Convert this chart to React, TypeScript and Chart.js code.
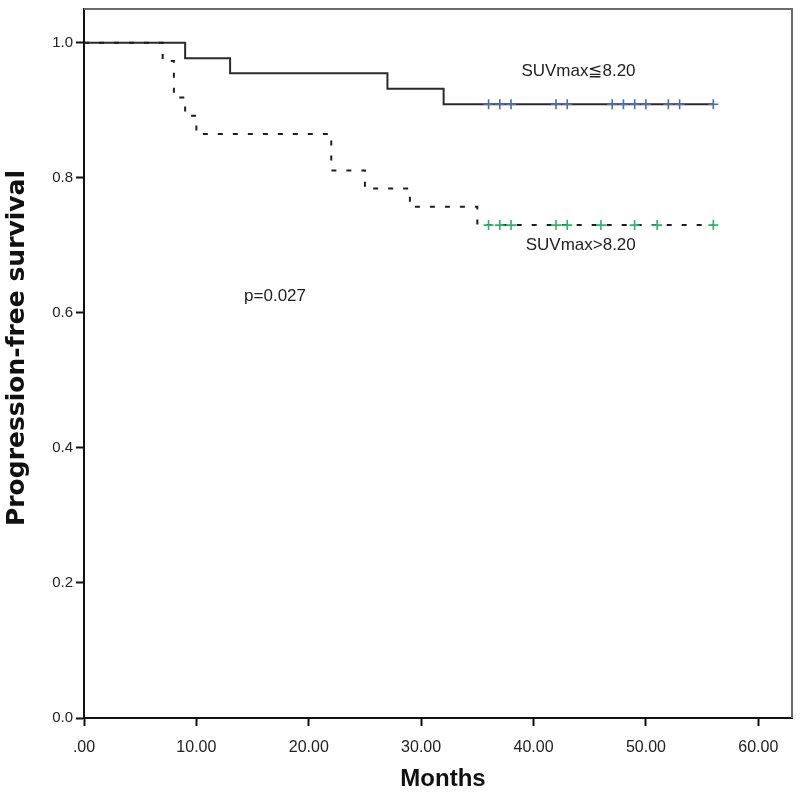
import React, { useEffect, useRef } from "react";
import { Chart, registerables } from "chart.js";

Chart.register(...registerables);

// ---- data ----
const xTickValues = [0, 10, 20, 30, 40, 50, 60];
const yTickValues = [0, 0.2, 0.4, 0.6, 0.8, 1.0];

// SUVmax <= 8.20 (solid line)
const lowTimes = [0, 9, 13, 27, 32, 56];
const lowSurvival = [1.0, 0.977, 0.955, 0.932, 0.909, 0.909];
const lowCensored = [36, 37, 38, 42, 43, 47, 48, 49, 50, 52, 53, 56];

// SUVmax > 8.20 (dashed line)
const highTimes = [0, 7, 8, 9, 10, 22, 25, 29, 35, 56];
const highSurvival = [1.0, 0.973, 0.919, 0.892, 0.865, 0.811, 0.784, 0.757, 0.73, 0.73];
const highCensored = [36, 37, 38, 42, 43, 46, 49, 51, 56];

const lowLabel = "SUVmax\u22668.20";
const highLabel = "SUVmax>8.20";
const pLabel = "p=0.027";
const xTitle = "Months";
const yTitle = "Progression-free survival";

function survAt(times: number[], surv: number[], t: number): number {
  let v = surv[0];
  for (let i = 0; i < times.length; i++) {
    if (times[i] <= t) v = surv[i];
  }
  return v;
}

const notes = [
  { text: lowLabel, x: 44.0, y: 0.957 },
  { text: highLabel, x: 44.2, y: 0.7 },
  { text: pLabel, x: 17.0, y: 0.624 },
];

const framePlugin = {
  id: "kmFrame",
  afterDraw(chart: any) {
    const { ctx, chartArea, scales } = chart;
    ctx.save();
    ctx.strokeStyle = "#6a6a6a";
    ctx.lineWidth = 2;
    ctx.beginPath();
    ctx.moveTo(chartArea.left, chartArea.top);
    ctx.lineTo(chartArea.right, chartArea.top);
    ctx.lineTo(chartArea.right, chartArea.bottom);
    ctx.stroke();
    ctx.fillStyle = "#222";
    ctx.font = "17px 'Liberation Sans', Arial, sans-serif";
    ctx.textAlign = "center";
    ctx.textBaseline = "middle";
    for (const n of notes) {
      ctx.fillText(n.text, scales.x.getPixelForValue(n.x), scales.y.getPixelForValue(n.y));
    }
    // axis titles
    ctx.fillStyle = "#111";
    ctx.font = "bold 24px 'Liberation Sans', Arial, sans-serif";
    ctx.fillText(xTitle, (chartArea.left + chartArea.right) / 2 + 5, 779);
    ctx.translate(17, 348);
    ctx.rotate(-Math.PI / 2);
    ctx.font = "bold 25px 'DejaVu Sans', sans-serif";
    ctx.fillText(yTitle, 0, 0);
    ctx.restore();
  },
};

export default function App() {
  const ref = useRef<HTMLCanvasElement | null>(null);

  useEffect(() => {
    if (!ref.current) return;
    const chart = new Chart(ref.current, {
      type: "line",
      data: {
        datasets: [
          {
            label: lowLabel,
            data: lowTimes.map((t, i) => ({ x: t, y: lowSurvival[i] })),
            stepped: true,
            borderColor: "#2b2b2b",
            borderWidth: 2,
            pointRadius: 0,
            fill: false,
            order: 2,
          },
          {
            label: highLabel,
            data: highTimes.map((t, i) => ({ x: t, y: highSurvival[i] })),
            stepped: true,
            borderColor: "#1e1e1e",
            borderWidth: 2,
            borderDash: [5, 10],
            pointRadius: 0,
            fill: false,
            order: 1,
          },
          {
            label: lowLabel + " censored",
            data: lowCensored.map((t) => ({ x: t, y: survAt(lowTimes, lowSurvival, t) })),
            showLine: false,
            pointStyle: "cross",
            pointRadius: 5,
            pointBorderColor: "#4a6db3",
            pointBorderWidth: 1.6,
            order: 0,
          },
          {
            label: highLabel + " censored",
            data: highCensored.map((t) => ({ x: t, y: survAt(highTimes, highSurvival, t) })),
            showLine: false,
            pointStyle: "cross",
            pointRadius: 5,
            pointBorderColor: "#2fb36a",
            pointBorderWidth: 1.6,
            order: 0,
          },
        ],
      },
      options: {
        animation: false,
        responsive: false,
        events: [],
        layout: { padding: { left: 0, top: 9, right: 8, bottom: 0 } },
        plugins: {
          legend: { display: false },
          tooltip: { enabled: false },
          title: { display: false },
        },
        scales: {
          x: {
            type: "linear",
            min: 0,
            max: 63,
            afterFit: (s: any) => {
              s.height = 81;
              s.paddingLeft = 0;
              s.paddingRight = 0;
            },
            afterBuildTicks: (s: any) => {
              s.ticks = xTickValues.map((v) => ({ value: v }));
            },
            ticks: {
              padding: 12,
              color: "#222",
              font: { family: "'Liberation Sans', Arial, sans-serif", size: 16 },
              callback: (v: any) => (Number(v) === 0 ? ".00" : Number(v).toFixed(2)),
              maxRotation: 0,
            },
            grid: {
              drawOnChartArea: false,
              drawTicks: true,
              tickLength: 8,
              tickColor: "#111",
              tickWidth: 2,
            },
            border: { display: true, color: "#111", width: 2 },
          },
          y: {
            type: "linear",
            min: 0,
            max: 1.05,
            afterFit: (s: any) => {
              s.width = 84;
              s.paddingTop = 0;
              s.paddingBottom = 0;
            },
            afterBuildTicks: (s: any) => {
              s.ticks = yTickValues.map((v) => ({ value: v }));
            },
            ticks: {
              padding: 3,
              color: "#222",
              font: { family: "'Liberation Sans', Arial, sans-serif", size: 15 },
              callback: (v: any) => Number(v).toFixed(1),
            },
            grid: {
              drawOnChartArea: false,
              drawTicks: true,
              tickLength: 8,
              tickColor: "#111",
              tickWidth: 2,
            },
            border: { display: true, color: "#111", width: 2 },
          },
        },
      },
      plugins: [framePlugin],
    });
    return () => chart.destroy();
  }, []);

  return (
    <div style={{ position: "fixed", left: 0, top: 0, width: 800, height: 799, background: "#fff" }}>
      <canvas ref={ref} width={800} height={799} style={{ display: "block", width: 800, height: 799 }} />
    </div>
  );
}
